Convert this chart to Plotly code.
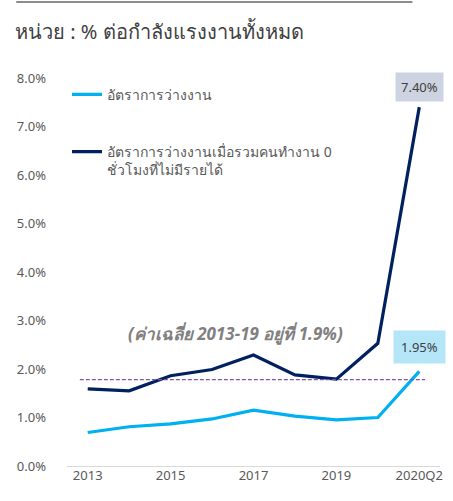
import plotly.graph_objects as go

categories = ["2013", "2014", "2015", "2016", "2017", "2018", "2019", "2020Q1", "2020Q2"]
unemp = [0.69, 0.81, 0.87, 0.97, 1.15, 1.03, 0.95, 1.00, 1.95]
unemp_zero_hr = [1.59, 1.55, 1.86, 1.99, 2.29, 1.88, 1.79, 2.53, 7.40]
avg_line = 1.78
tick_vals = [0, 1, 2, 3, 4, 5, 6, 7, 8]
tick_text = ["0.0%", "1.0%", "2.0%", "3.0%", "4.0%", "5.0%", "6.0%", "7.0%", "8.0%"]
x_ticks = ["2013", "2015", "2017", "2019", "2020Q2"]

name1 = "อัตราการว่างงาน"
name2 = "อัตราการว่างงานเมื่อรวมคนทำงาน 0<br>ชั่วโมงที่ไม่มีรายได้"
title_text = "หน่วย : % ต่อกำลังแรงงานทั้งหมด"
avg_text = "(ค่าเฉลี่ย 2013-19 อยู่ที่ 1.9%)"

FONT = "Segoe UI, Noto Sans, Open Sans, sans-serif"

fig = go.Figure()
fig.add_trace(go.Scatter(x=categories, y=unemp, mode="lines", name=name1,
                         line=dict(color="#00B0F0", width=3.2), legendgroup="a"))
fig.add_trace(go.Scatter(x=categories, y=unemp_zero_hr, mode="lines", name=name2,
                         line=dict(color="#002060", width=3.2), legendgroup="b"))

fig.add_shape(type="line", xref="x", yref="y", x0=-0.19, x1=8.14, y0=avg_line, y1=avg_line,
              line=dict(color="#7E57A8", width=1.2, dash="4px,2px"))
# top gray rule
fig.add_shape(type="line", xref="paper", yref="paper", x0=-0.136, x1=0.926, y0=1.196, y1=1.196,
              line=dict(color="#8C8C8C", width=2))

fig.add_annotation(x=categories[-1], y=unemp_zero_hr[-1], text=f"{unemp_zero_hr[-1]:.2f}%",
                   showarrow=False, yshift=20, bgcolor="#CDD3E0", borderpad=5,
                   font=dict(size=13, color="#404040", family=FONT))
fig.add_annotation(x=categories[-1], y=unemp[-1], text=f"{unemp[-1]:.2f}%",
                   showarrow=False, yshift=24, bgcolor="#B4E6F8", borderpad=7,
                   font=dict(size=13, color="#404040", family=FONT))
fig.add_annotation(x=3.57, y=2.74, xref="x", yref="y", text=f"<i><b>{avg_text}</b></i>",
                   showarrow=False, font=dict(size=17, color="#808080", family=FONT))

fig.update_layout(
    width=453, height=501,
    margin=dict(l=67, r=10, t=78, b=35),
    paper_bgcolor="white", plot_bgcolor="white",
    font=dict(family=FONT, size=13, color="#595959"),
    title=dict(text=title_text, x=15 / 453, xanchor="left", y=1 - 32 / 501, yanchor="middle",
               font=dict(size=20, color="#404040", family=FONT)),
    showlegend=True,
    legend=dict(x=0.0, y=0.998, xanchor="left", yanchor="top", bgcolor="rgba(0,0,0,0)",
                tracegroupgap=36, valign="top", font=dict(size=14, color="#595959")),
    xaxis=dict(type="category", range=[-0.5, 8.5], tickvals=x_ticks, ticktext=x_ticks,
               showgrid=False, showline=False, zeroline=False, ticks="", tickfont=dict(size=13)),
    yaxis=dict(range=[0, 8], tickvals=tick_vals, ticktext=tick_text, showgrid=False,
               zeroline=True, zerolinecolor="#D9D9D9", zerolinewidth=1,
               showline=False, ticks="", ticklabelstandoff=20, tickfont=dict(size=13)),
)

fig.write_html("out.html", config={"displayModeBar": False},
               post_script="document.body.style.margin='0';")
